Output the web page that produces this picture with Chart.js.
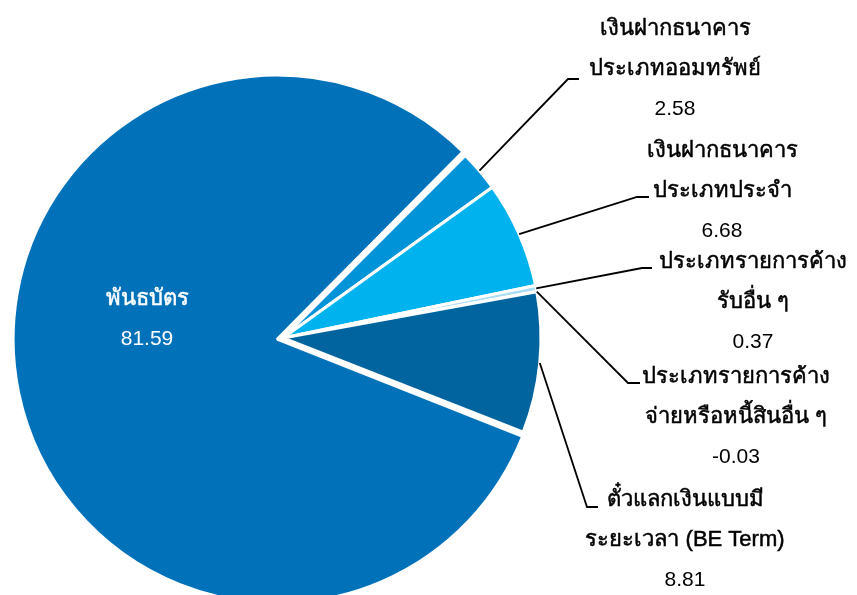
<!DOCTYPE html>
<html>
<head>
<meta charset="utf-8">
<script src="https://cdn.jsdelivr.net/npm/chart.js@4"></script>
<style>
  html, body { margin: 0; padding: 0; background: #fff; }
  #wrap { width: 857px; height: 595px; position: relative; }
</style>
</head>
<body>
<div id="wrap"><canvas id="pieChart"></canvas></div>
<script>
// ===== DATA =====
const categories = [
  ["พันธบัตร"],
  ["เงินฝากธนาคาร", "ประเภทออมทรัพย์"],
  ["เงินฝากธนาคาร", "ประเภทประจำ"],
  ["ประเภทรายการค้าง", "รับอื่น ๆ"],
  ["ประเภทรายการค้าง", "จ่ายหรือหนี้สินอื่น ๆ"],
  ["ตั๋วแลกเงินแบบมี", "ระยะเวลา (BE Term)"]
];
const values = [81.59, 2.58, 6.68, 0.37, -0.03, 8.81];
const valueLabels = ["81.59", "2.58", "6.68", "0.37", "-0.03", "8.81"];
const sliceColors = ["#0171b9", "#0193d7", "#00b3ee", "#a9dcf5", "#7fc6ea", "#01649f"];

// ===== LABEL LAYOUT (text centre, first baseline, leader elbow) =====
const labelLayout = [
  { x: 147, y: 305, color: "#ffffff" },
  { x: 675, y: 35,  elbow: [568, 79],  tick: 11 },
  { x: 722, y: 157, elbow: [637, 197], tick: 12 },
  { x: 753, y: 268, elbow: [642, 268], tick: 10 },
  { x: 736, y: 383, elbow: [628, 383], tick: 12 },
  { x: 685, y: 506, elbow: [587, 507], tick: 11 }
];
const LINE_GAP = 40;
const FONT_FAMILY = '"Liberation Sans", Arial, "Noto Sans", sans-serif';

const pieLabels = {
  id: "pieLabels",
  afterDatasetsDraw(chart) {
    const ctx = chart.ctx;
    const meta = chart.getDatasetMeta(0);
    ctx.save();
    meta.data.forEach((arc, i) => {
      const lay = labelLayout[i];
      const p = arc.getProps(["x", "y", "startAngle", "endAngle", "outerRadius"], true);
      const mid = (p.startAngle + p.endAngle) / 2;

      if (lay.elbow) {
        const ax = p.x + Math.cos(mid) * p.outerRadius;
        const ay = p.y + Math.sin(mid) * p.outerRadius;
        ctx.beginPath();
        ctx.strokeStyle = "#000";
        ctx.lineWidth = 1.8;
        ctx.moveTo(ax, ay);
        ctx.lineTo(lay.elbow[0], lay.elbow[1]);
        ctx.lineTo(lay.elbow[0] + lay.tick, lay.elbow[1]);
        ctx.stroke();
      }

      const col = lay.color || "#000";
      ctx.fillStyle = col;
      ctx.strokeStyle = col;
      ctx.textAlign = "center";
      ctx.textBaseline = "alphabetic";
      const lines = categories[i];
      ctx.font = "22px " + FONT_FAMILY;
      ctx.lineWidth = 0.5;
      lines.forEach((t, k) => {
        ctx.fillText(t, lay.x, lay.y + k * LINE_GAP);
        ctx.strokeText(t, lay.x, lay.y + k * LINE_GAP);
      });
      ctx.font = "21px " + FONT_FAMILY;
      ctx.fillText(valueLabels[i], lay.x, lay.y + lines.length * LINE_GAP);
    });
    ctx.restore();
  }
};

const ctx = document.getElementById("pieChart").getContext("2d");
new Chart(ctx, {
  type: "pie",
  data: {
    labels: categories.map(c => c.join(" ")),
    datasets: [{
      data: values,
      backgroundColor: sliceColors,
      borderColor: "#ffffff",
      borderWidth: 3,
      offset: [24, 0, 0, 0, 0, 0],
      radius: 258,
      clip: false
    }]
  },
  options: {
    responsive: true,
    maintainAspectRatio: false,
    animation: false,
    rotation: 111.4,
    layout: {
      padding: { left: 0, right: 291, top: 81, bottom: 0 }
    },
    plugins: {
      legend: { display: false },
      tooltip: { enabled: false }
    }
  },
  plugins: [pieLabels]
});
</script>
</body>
</html>
